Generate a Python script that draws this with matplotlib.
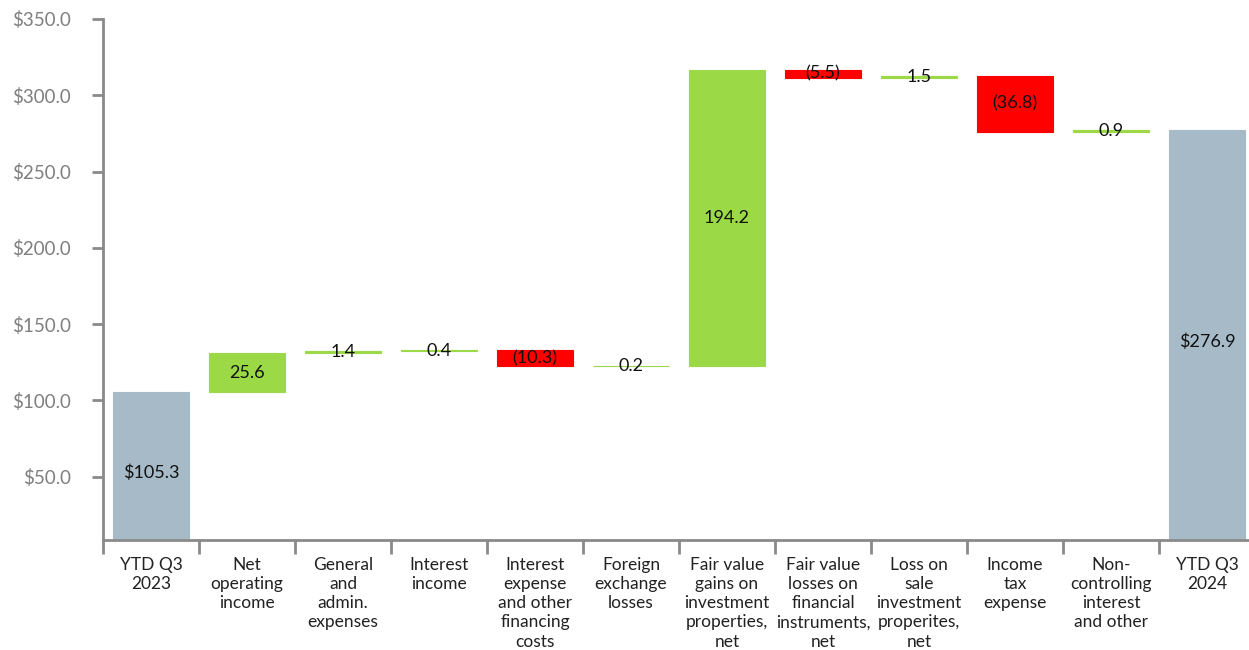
import matplotlib
matplotlib.use("Agg")
import matplotlib.pyplot as plt
import numpy as np

# categories and step values
categories = [
    "YTD Q3\n2023",
    "Net\noperating\nincome",
    "General\nand\nadmin.\nexpenses",
    "Interest\nincome",
    "Interest\nexpense\nand other\nfinancing\ncosts",
    "Foreign\nexchange\nlosses",
    "Fair value\ngains on\ninvestment\nproperties,\nnet",
    "Fair value\nlosses on\nfinancial\ninstruments,\nnet",
    "Loss on\nsale\ninvestment\nproperites,\nnet",
    "Income\ntax\nexpense",
    "Non-\ncontrolling\ninterest\nand other",
    "YTD Q3\n2024",
]
start_value = 105.3
changes = [25.6, 1.4, 0.4, -10.3, 0.2, 194.2, -5.5, 1.5, -36.8, 0.9]
end_value = 276.9
y_ticks = [50, 100, 150, 200, 250, 300, 350]

TOTAL_COLOR = "#A6BAC8"
UP_COLOR = "#9BDA46"
DOWN_COLOR = "#FF0000"
AXIS_COLOR = "#8A8A8A"

plt.rcParams['font.family'] = ['Lato', 'DejaVu Sans']

fig = plt.figure(figsize=(12.49, 6.5), dpi=100)
ax = fig.add_axes([103 / 1249, 110 / 650, 1152 / 1249, 521 / 650])

# build waterfall bars
bottoms, heights, colors, labels = [], [], [], []
bottoms.append(0)
heights.append(start_value)
colors.append(TOTAL_COLOR)
labels.append(f"${start_value:.1f}")
running = start_value
for c in changes:
    if c >= 0:
        bottoms.append(running)
        colors.append(UP_COLOR)
        labels.append(f"{c:.1f}")
    else:
        bottoms.append(running + c)
        colors.append(DOWN_COLOR)
        labels.append(f"({-c:.1f})")
    heights.append(abs(c))
    running += c
bottoms.append(0)
heights.append(end_value)
colors.append(TOTAL_COLOR)
labels.append(f"${end_value:.1f}")

x = np.arange(len(categories))
# thin edge in the same colour keeps tiny steps visible as a line
ax.bar(x, heights, bottom=bottoms, width=0.8, color=colors,
       edgecolor=colors, linewidth=0.8)

ymin = 8.4
for xi, b, h, lab in zip(x, bottoms, heights, labels):
    ax.text(xi, b + h / 2, lab, ha='center', va='center', fontsize=13, color='#111111')

ax.set_xlim(-0.5, len(categories) - 0.5)
ax.set_ylim(ymin, 350)

ax.set_yticks(y_ticks)
ax.set_yticklabels([f"${v:.1f}" for v in y_ticks])
ax.tick_params(axis='y', length=8, width=2, color=AXIS_COLOR, labelcolor='#7F7F7F',
               labelsize=13.5, pad=15)

ax.set_xticks(x)
ax.set_xticklabels(categories, fontsize=12.5, color='#222222', linespacing=1.25, va='top')
ax.tick_params(axis='x', which='major', length=0, pad=12)
ax.set_xticks(np.arange(len(categories)) - 0.5, minor=True)
ax.tick_params(axis='x', which='minor', length=10, width=2, color=AXIS_COLOR)

for side in ['top', 'right']:
    ax.spines[side].set_visible(False)
for side in ['left', 'bottom']:
    ax.spines[side].set_color(AXIS_COLOR)
    ax.spines[side].set_linewidth(2)

fig.savefig("out.png", dpi=100)
